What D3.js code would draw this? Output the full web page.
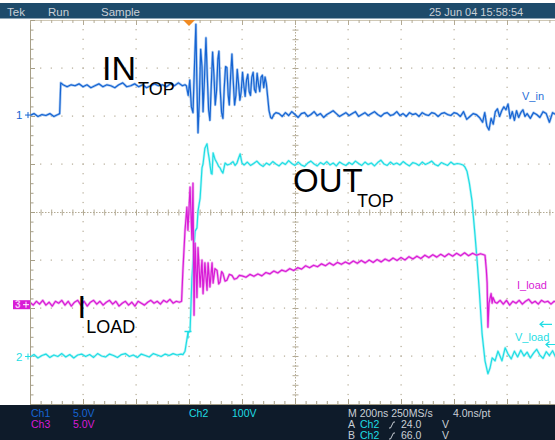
<!DOCTYPE html>
<html>
<head>
<meta charset="utf-8">
<script src="https://cdn.jsdelivr.net/npm/d3@7"></script>
<style>
  html, body { margin: 0; padding: 0; background: #ffffff; }
  svg { display: block; }
  text { font-family: "Liberation Sans", Arial, sans-serif; }
</style>
</head>
<body>
<svg id="scope" width="555" height="440"></svg>
<script>
// ---- acquisition settings ----
const timePerDiv = 200;            // ns / div
const chVoltsPerDiv = [5, 100, 5]; // Ch1, Ch2, Ch3
const triggerTime = 600;           // ns from left edge
const triggerLevels = [24, 66];    // A, B levels on Ch2 (V)

// ---- Ch1 : input voltage  [time ns, volts] ----
const ch1Trace = [
  [0,-0.1],[15,0.1],[30,-0.2],[45,0.0],[60,-0.1],[75,0.1],[90,-0.2],[105,0.0],[112,0.1],
  [116,3.3],[125,3.1],[140,2.9],[155,3.1],[170,3.0],[185,3.2],[200,2.9],[215,3.1],[230,2.8],
  [245,3.0],[260,3.2],[275,2.9],[290,3.1],[305,3.0],[320,2.8],[335,3.1],[350,3.3],[365,2.9],
  [380,3.0],[395,3.2],[410,2.9],[425,3.1],[440,2.8],[455,3.0],[470,3.2],[485,3.0],[500,3.1],
  [515,2.9],[530,3.2],[545,3.0],[560,3.3],[575,3.0],[585,3.1],
  [590,3.0],[597,2.0],[603,3.6],[609,0.8],[615,0.2],[620,4.5],[626,9.4],[630,3.0],[634,-1.9],
  [639,1.5],[644,6.8],[649,5.0],[653,0.3],[658,3.5],[664,8.0],[669,4.0],[674,0.5],[679,-0.6],
  [684,3.0],[689,6.5],[694,4.2],[699,1.0],[704,2.5],[709,5.8],[713,6.6],[718,2.5],[723,0.2],
  [728,-0.4],[733,2.8],[738,5.0],[743,4.9],[748,2.0],[752,1.0],[757,4.0],[762,6.3],[767,3.5],
  [772,1.0],[777,2.0],[782,4.7],[787,3.2],[792,1.5],[797,2.4],[802,4.4],[807,3.0],[812,1.9],
  [817,3.6],[822,4.2],[827,2.4],[832,2.0],[837,3.9],[842,4.4],[847,2.6],[852,2.3],[857,4.3],
  [862,3.2],[867,2.4],[872,3.9],[877,4.1],[882,2.8],[887,3.9],[892,3.2],[897,1.8],[902,0.4],
  [908,-0.3],[913,-0.4],[920,0.0],[928,0.2],
  [940,0.1],[952,-0.2],[964,0.2],[976,-0.1],[988,0.3],[1000,0.0],[1012,-0.3],[1024,0.1],
  [1036,0.2],[1048,-0.2],[1060,0.0],[1072,0.3],[1084,-0.1],[1096,0.1],[1108,-0.3],[1120,0.0],
  [1132,0.2],[1144,0.4],[1156,0.1],[1168,-0.2],[1180,0.0],[1192,0.2],[1204,-0.1],[1216,0.1],
  [1228,0.3],[1240,-0.2],[1252,0.0],[1264,0.2],[1276,-0.1],[1288,0.1],[1300,0.3],[1312,0.0],
  [1324,-0.2],[1336,0.1],[1348,0.2],[1360,-0.1],[1372,0.0],[1384,0.3],[1396,-0.1],[1408,0.1],
  [1420,-0.2],[1432,0.2],[1444,0.0],[1456,0.1],[1468,-0.2],[1480,0.2],[1492,0.0],[1504,-0.1],
  [1516,0.2],[1528,0.1],[1540,-0.2],[1552,0.1],[1564,0.2],[1576,0.0],[1588,-0.1],[1600,0.2],
  [1612,0.1],[1624,-0.2],[1636,0.3],[1648,-0.5],[1660,-0.2],[1672,0.1],[1684,0.0],[1696,-0.3],
  [1708,-0.8],[1716,0.2],[1724,-1.2],[1732,-1.6],[1740,-0.4],[1748,-1.0],[1756,0.3],[1764,0.6],
  [1772,-0.2],[1780,0.4],[1788,0.8],[1796,0.5],[1804,1.1],[1812,-0.4],[1820,0.3],[1828,-0.6],
  [1836,0.4],[1844,-0.3],[1852,0.2],[1860,0.5],[1868,-0.2],[1876,0.1],[1888,-0.4],[1900,0.2],
  [1912,0.0],[1924,-0.3],[1936,0.3],[1948,0.1],[1960,-0.8],[1972,0.2],[1984,0.0],[2000,0.1]
];

// ---- Ch2 : output voltage  [time ns, volts] ----
const ch2Trace = [
  [0,-2],[15,3],[30,-4],[45,1],[60,4],[75,-3],[90,2],[105,-1],[120,5],[135,-2],[150,3],[165,-4],
  [180,2],[195,4],[210,-1],[225,3],[240,-3],[255,5],[270,0],[285,-2],[300,4],[315,1],[330,-3],
  [345,3],[360,5],[375,-1],[390,2],[405,-3],[420,4],[435,1],[450,-2],[465,5],[480,2],[495,-1],
  [510,4],[525,1],[540,5],[555,2],[570,4],[577,3],
  [585,10],[596,48],[604,52],[611,162],[623,260],[630,267],[634,302],[642,329],[649,392],
  [653,400],[660,433],[668,442],[672,425],[676,412],[680,395],[684,380],[687,379],[691,423],
  [698,410],[706,402],[712,395],[717,392],[723,385],[728,381],[736,402],[745,398],[755,400],
  [766,405],[774,397],[781,402],[787,412],[793,421],[800,402],
  [808,398],[820,404],[832,397],[844,401],[856,406],[868,399],[880,395],[892,402],[904,398],
  [916,405],[928,400],[940,396],[952,403],[964,399],[976,407],[988,401],[1000,397],[1012,404],
  [1024,398],[1036,395],[1048,402],[1060,406],[1072,400],[1084,396],[1096,403],[1108,399],
  [1120,405],[1132,398],[1144,402],[1156,396],[1168,404],[1180,400],[1192,397],[1204,403],
  [1216,399],[1228,406],[1240,401],[1252,397],[1264,404],[1276,399],[1288,402],[1300,396],
  [1312,403],[1324,408],[1336,400],[1348,397],[1360,404],[1372,399],[1384,402],[1396,398],
  [1408,405],[1420,400],[1432,396],[1444,403],[1456,401],[1468,397],[1480,404],[1492,399],
  [1504,402],[1516,406],[1528,399],[1540,396],[1552,403],[1564,400],[1576,397],[1588,404],
  [1600,399],[1612,401],[1623,400],
  [1634,398],[1641,394],[1649,385],[1658,360],[1668,323],[1679,254],[1687,200],[1695,140],
  [1706,46],[1717,-10],[1728,-37],[1736,-25],[1744,-4],[1755,-10],[1766,10],[1781,-10],
  [1793,17],[1804,4],
  [1816,-6],[1828,10],[1840,-2],[1852,12],[1864,0],[1876,8],[1888,-4],[1900,6],[1912,14],
  [1924,2],[1936,-5],[1948,9],[1960,1],[1972,11],[1984,-3],[2000,5]
];

// ---- Ch3 : load current probe  [time ns, volts] ----
const ch3Trace = [
  [0,0.1],[12,-0.2],[24,0.2],[36,-0.1],[48,0.3],[60,-0.2],[72,0.1],[84,-0.3],[96,0.2],[108,0.0],
  [120,0.3],[132,-0.2],[144,0.2],[156,-0.3],[168,0.1],[180,0.3],[192,-0.2],[204,0.2],[216,-0.3],
  [228,0.1],[240,0.3],[252,-0.1],[264,0.2],[276,-0.2],[288,0.1],[300,0.3],[312,-0.1],[324,0.2],
  [336,-0.3],[348,0.0],[360,0.2],[372,-0.2],[384,0.1],[396,-0.3],[408,0.2],[420,0.0],[432,-0.2],
  [444,0.1],[456,0.3],[468,0.0],[480,0.2],[492,-0.1],[504,0.3],[516,0.1],[528,0.4],[540,0.0],
  [552,0.2],[564,0.1],[572,0.2],
  [577,3.4],[585,7.6],[592,10.0],[596,7.6],[604,12.1],[611,6.6],[615,12.5],[619,-1.25],
  [623,6.25],[630,0.6],[634,5.8],[642,1.7],[649,4.5],[653,1.0],[660,4.2],[668,1.35],[672,4.2],
  [679,1.7],[687,4.2],[691,2.1],[698,3.6],[706,3.4],[712,2.0],[717,2.2],[723,3.3],[728,3.1],
  [736,2.3],[743,2.4],[752,3.0],[762,2.9],[771,2.5],[781,2.6],[790,2.9],
  [800,2.85],[815,2.7],[830,3.0],[845,2.8],[860,3.05],[875,2.85],[890,3.2],[905,3.05],
  [920,3.35],[935,3.15],[950,3.45],[965,3.3],[980,3.6],[995,3.4],[1010,3.7],[1025,3.55],
  [1040,3.9],[1055,3.7],[1070,3.95],[1085,3.8],[1100,4.1],[1115,3.9],[1130,4.2],[1145,3.95],
  [1160,4.25],[1175,4.05],[1190,4.3],[1205,4.1],[1220,4.4],[1235,4.15],[1250,4.45],[1265,4.2],
  [1280,4.5],[1295,4.25],[1310,4.55],[1325,4.3],[1340,4.6],[1355,4.4],[1370,4.7],[1385,4.45],
  [1400,4.75],[1415,4.5],[1430,4.85],[1445,4.6],[1460,4.9],[1475,4.65],[1490,5.0],[1505,4.75],
  [1520,5.05],[1535,4.8],[1550,5.1],[1565,4.85],[1580,5.15],[1595,4.9],[1610,5.2],[1625,4.95],
  [1640,5.25],[1655,4.95],[1670,5.2],[1685,5.0],[1700,5.15],[1712,5.05],
  [1717,5.0],[1722,3.5],[1725,2.1],[1728,-2.5],[1732,0.0],[1740,1.0],[1744,0.0],[1747,0.6],
  [1755,0.1],[1762,0.0],[1774,0.3],[1786,-0.1],[1798,0.3],[1810,-0.2],[1822,0.2],[1834,0.0],
  [1846,0.3],[1858,-0.1],[1870,0.2],[1882,0.4],[1894,0.0],[1906,0.2],[1918,-0.1],[1930,0.3],
  [1942,0.1],[1954,0.2],[1966,-0.1],[1978,0.2],[1990,0.1],[2000,0.2]
];

// ---- readout texts ----
const headerLabels = ["Tek", "Run", "Sample"];
const timestamp = "25 Jun 04 15:58:54";
const traceNames = ["V_in", "V_load", "I_load"];

// ---- screen geometry ----
const svg = d3.select("#scope");
const G = { left: 30, top: 20, divX: 53, divY: 48, nx: 10, ny: 8 };
G.right = G.left + G.divX * G.nx;   // 560
G.bottom = G.top + G.divY * G.ny;   // 404
const cx = G.left + G.divX * 5, cy = G.top + G.divY * 4;

const x = d3.scaleLinear().domain([0, timePerDiv * G.nx]).range([G.left, G.right]);
// each channel: ground offset in divisions from screen centre
function chanScale(groundDiv, vdiv) {
  const g = cy - groundDiv * G.divY;
  return d3.scaleLinear().domain([0, vdiv]).range([g, g - G.divY]);
}
const y1 = chanScale(2.03, chVoltsPerDiv[0]);
const y2 = chanScale(-3.0, chVoltsPerDiv[1]);
const y3 = chanScale(-1.9, chVoltsPerDiv[2]);

const COL = {
  ch1: "#1664d2", ch1h: "#8ab6ec",
  ch2: "#1fdde4", ch2h: "#a6f2f4",
  ch3: "#d81cd6", ch3h: "#ee90ec",
  grid: "#b3aa94", bar: "#1e4b6b", panel: "#0e1b2a", ui: "#c9cfd6"
};

// ---- frame: header bar and readout panel ----
svg.append("rect").attr("x", 0).attr("y", 0).attr("width", 555).attr("height", 440).attr("fill", "#ffffff");
svg.append("rect").attr("x", 0).attr("y", 3).attr("width", 555).attr("height", 15.5).attr("fill", COL.bar);
const hdrX = [7, 48, 101];
headerLabels.forEach((t, i) => {
  svg.append("text").attr("x", hdrX[i]).attr("y", 16).attr("font-size", 11.5)
    .attr("fill", COL.ui).text(t);
});
svg.append("text").attr("x", 429).attr("y", 16).attr("font-size", 11).attr("fill", COL.ui).text(timestamp);

svg.append("rect").attr("x", 0).attr("y", G.bottom + 1).attr("width", 555).attr("height", 440 - G.bottom - 1)
  .attr("fill", COL.panel);

// ---- graticule ----
const grat = svg.append("g");
const minorX = d3.range(0, G.nx * 5 + 1).map(k => G.left + k * G.divX / 5);
const minorY = d3.range(0, G.ny * 5 + 1).map(k => G.top + k * G.divY / 5);

// dotted division lines
for (let i = 1; i < G.nx; i++) {
  if (i === 5) continue;
  const xx = G.left + i * G.divX;
  minorY.slice(1, -1).forEach(yy => grat.append("rect").attr("x", xx - 0.5).attr("y", yy - 0.5)
    .attr("width", 1.2).attr("height", 1.2).attr("fill", COL.grid));
}
for (let j = 1; j < G.ny; j++) {
  if (j === 4) continue;
  const yy = G.top + j * G.divY;
  minorX.slice(1, -1).forEach(xx => grat.append("rect").attr("x", xx - 0.5).attr("y", yy - 0.5)
    .attr("width", 1.2).attr("height", 1.2).attr("fill", COL.grid));
}
// centre cross with tick marks
grat.append("line").attr("x1", G.left).attr("x2", G.right).attr("y1", cy + 0.5).attr("y2", cy + 0.5)
  .attr("stroke", COL.grid).attr("stroke-dasharray", "1.5,1.5");
grat.append("line").attr("y1", G.top).attr("y2", G.bottom).attr("x1", cx + 0.5).attr("x2", cx + 0.5)
  .attr("stroke", COL.grid).attr("stroke-dasharray", "1.5,1.5");
minorX.forEach(xx => grat.append("line").attr("x1", xx + 0.5).attr("x2", xx + 0.5)
  .attr("y1", cy - 2.5).attr("y2", cy + 3.5).attr("stroke", COL.grid));
minorY.forEach(yy => grat.append("line").attr("y1", yy + 0.5).attr("y2", yy + 0.5)
  .attr("x1", cx - 2.5).attr("x2", cx + 3.5).attr("stroke", COL.grid));

// border with ticks
grat.append("line").attr("x1", G.left + 0.5).attr("x2", G.left + 0.5).attr("y1", G.top).attr("y2", G.bottom + 1)
  .attr("stroke", "#a79f88");
grat.append("line").attr("x1", G.left).attr("x2", G.right).attr("y1", G.top + 0.5).attr("y2", G.top + 0.5)
  .attr("stroke", "#cfc8b6");
grat.append("line").attr("x1", G.left).attr("x2", G.right).attr("y1", G.bottom + 0.5).attr("y2", G.bottom + 0.5)
  .attr("stroke", "#a79f88");
minorY.forEach((yy, k) => grat.append("line").attr("x1", G.left).attr("x2", G.left + (k % 5 ? 3.5 : 5))
  .attr("y1", yy + 0.5).attr("y2", yy + 0.5).attr("stroke", "#a79f88"));
minorX.forEach((xx, k) => {
  grat.append("line").attr("x1", xx + 0.5).attr("x2", xx + 0.5).attr("y1", G.top)
    .attr("y2", G.top + (k % 5 ? 3 : 5)).attr("stroke", COL.grid);
  grat.append("line").attr("x1", xx + 0.5).attr("x2", xx + 0.5).attr("y1", G.bottom + 1)
    .attr("y2", G.bottom - (k % 5 ? 3 : 5)).attr("stroke", "#a79f88");
});

// ---- traces ----
svg.append("clipPath").attr("id", "screen").append("rect")
  .attr("x", G.left + 1).attr("y", G.top).attr("width", G.right - G.left).attr("height", G.bottom - G.top);
const traces = svg.append("g").attr("clip-path", "url(#screen)");
function drawTrace(data, ys, col, halo) {
  const gen = d3.line().x(d => x(d[0])).y(d => ys(d[1]));
  traces.append("path").attr("d", gen(data)).attr("fill", "none").attr("stroke", halo)
    .attr("stroke-width", 2.6).attr("stroke-linejoin", "round").attr("opacity", 0.75);
  traces.append("path").attr("d", gen(data)).attr("fill", "none").attr("stroke", col)
    .attr("stroke-width", 1.2).attr("stroke-linejoin", "round");
}
drawTrace(ch2Trace, y2, COL.ch2, COL.ch2h);
drawTrace(ch3Trace, y3, COL.ch3, COL.ch3h);
drawTrace(ch1Trace, y1, COL.ch1, COL.ch1h);

// trigger point on the Ch2 edge
const tX = x(triggerTime) - 1, tY = y2(triggerLevels[0]);
svg.append("path").attr("d", `M${tX - 3.5},${tY - 13} H${tX + 3.5} M${tX},${tY - 13} V${tY - 6}`)
  .attr("stroke", COL.ch2).attr("stroke-width", 1.3).attr("fill", "none");

// trigger time marker
const tx = x(triggerTime);
svg.append("path").attr("d", `M${tx - 6},${G.top} H${tx + 6} L${tx},${G.top + 6} Z`).attr("fill", "#f08a22");

// trigger level arrows at the right edge
[[triggerLevels[1], 540, 552], [triggerLevels[0], 546, 556]].forEach(([lv, a, b]) => {
  const yy = y2(lv);
  svg.append("path").attr("d", `M${a},${yy} H${b} M${a + 3.5},${yy - 3} L${a},${yy} L${a + 3.5},${yy + 3}`)
    .attr("stroke", COL.ch2).attr("stroke-width", 1.2).attr("fill", "none");
});

// ---- channel ground markers ----
function groundMark(label, ys, col) {
  const yy = ys(0);
  svg.append("text").attr("x", 16).attr("y", yy + 4.5).attr("font-size", 11.5).attr("fill", col).text(label);
  svg.append("path").attr("d", `M25,${yy + 0.5} H31 M28,${yy - 2.5} V${yy + 3.5}`)
    .attr("stroke", col).attr("stroke-width", 1).attr("fill", "none");
}
groundMark("1", y1, COL.ch1);
groundMark("2", y2, COL.ch2);
{
  const yy = y3(0);
  svg.append("rect").attr("x", 13).attr("y", yy - 3).attr("width", 17).attr("height", 9).attr("fill", COL.ch3);
  svg.append("text").attr("x", 15).attr("y", yy + 5).attr("font-size", 10).attr("font-weight", "bold")
    .attr("fill", "#f7c8f6").text("3");
  svg.append("path").attr("d", `M23,${yy + 1.5} H29 M26,${yy - 1.5} V${yy + 4.5}`)
    .attr("stroke", "#ffffff").attr("stroke-width", 1).attr("fill", "none");
}

// ---- trace names ----
svg.append("text").attr("x", 522).attr("y", 100).attr("font-size", 11).attr("fill", "#2a70d8").text(traceNames[0]);
svg.append("text").attr("x", 515).attr("y", 341).attr("font-size", 11).attr("fill", COL.ch2).text(traceNames[1]);
svg.append("text").attr("x", 517).attr("y", 289).attr("font-size", 11).attr("fill", COL.ch3).text(traceNames[2]);

// ---- annotations: large symbol with subscript ----
function label(big, sub, bx, by, bs, sx, sy, ss) {
  const t = svg.append("text").attr("fill", "#000");
  t.append("tspan").attr("x", bx).attr("y", by).attr("font-size", bs).text(big);
  t.append("tspan").attr("x", sx).attr("y", sy).attr("font-size", ss).text(sub);
}
label("IN", "TOP", 102, 80, 34, 138, 95, 18);
label("OUT", "TOP", 293, 192, 33, 357, 207, 18);
label("I", "LOAD", 77.5, 318, 31, 86.3, 333, 18);

// ---- readout panel ----
const ro = svg.append("g").attr("font-size", 10.5);
function rt(s, xx, yy, col) { ro.append("text").attr("x", xx).attr("y", yy).attr("fill", col).text(s); }
rt("Ch1", 31, 417, COL.ch1); rt(chVoltsPerDiv[0].toFixed(1) + "V", 73, 417, COL.ch1);
rt("Ch3", 31, 428, COL.ch3); rt(chVoltsPerDiv[2].toFixed(1) + "V", 73, 428, COL.ch3);
rt("Ch2", 189, 417, COL.ch2); rt(chVoltsPerDiv[1] + "V", 232, 417, COL.ch2);
rt("M " + timePerDiv + "ns 250MS/s", 348, 417, COL.ui); rt("4.0ns/pt", 453, 417, COL.ui);
[["A", triggerLevels[0], 428], ["B", triggerLevels[1], 439]].forEach(([n, lv, yy]) => {
  rt(n, 348, yy, COL.ui);
  rt("Ch2", 360, yy, COL.ch2);
  ro.append("path").attr("d", `M389,${yy} H390.5 L393.5,${yy - 6} H395`).attr("stroke", COL.ui)
    .attr("fill", "none").attr("stroke-width", 1);
  rt(lv.toFixed(1), 401, yy, COL.ui);
  rt("V", 442, yy, COL.ui);
});
</script>
</body>
</html>
